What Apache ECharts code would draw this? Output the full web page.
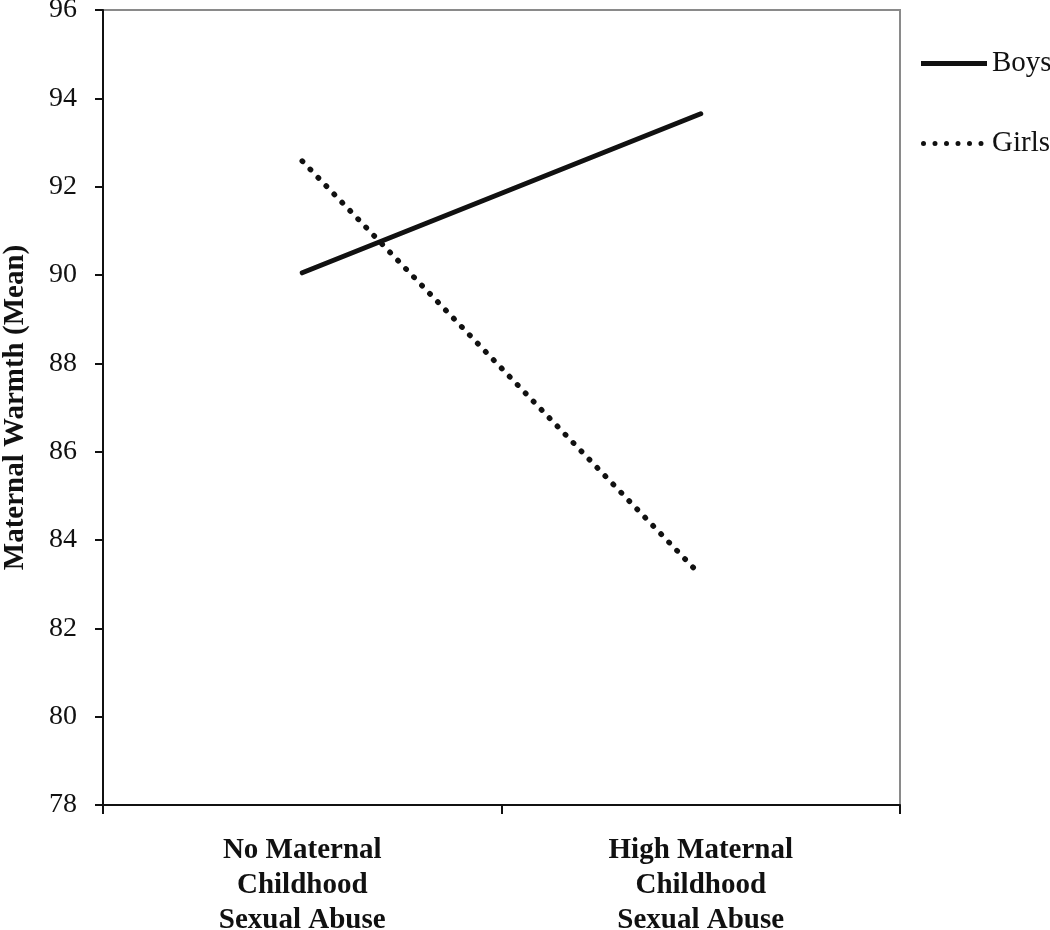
<!DOCTYPE html>
<html>
<head>
<meta charset="utf-8">
<script src="https://cdn.jsdelivr.net/npm/echarts@6/dist/echarts.min.js"></script>
<style>html,body{margin:0;padding:0;background:#fff}#c{width:1050px;height:930px}</style>
</head>
<body>
<div id="c"></div>
<script>
var categories = ['No Maternal\nChildhood\nSexual Abuse', 'High Maternal\nChildhood\nSexual Abuse'];
var boys = [90.05, 93.65];
var girls = [92.58, 83.2];
var yMin = 78, yMax = 96, yStep = 2;

var chart = echarts.init(document.getElementById('c'));
var serif = 'Liberation Serif';
var dotsIcon = 'path://M0,2.5a2.5,2.5 0 1,0 5,0a2.5,2.5 0 1,0 -5,0Z' +
  'M11.5,2.5a2.5,2.5 0 1,0 5,0a2.5,2.5 0 1,0 -5,0Z' +
  'M23,2.5a2.5,2.5 0 1,0 5,0a2.5,2.5 0 1,0 -5,0Z' +
  'M34.5,2.5a2.5,2.5 0 1,0 5,0a2.5,2.5 0 1,0 -5,0Z' +
  'M46,2.5a2.5,2.5 0 1,0 5,0a2.5,2.5 0 1,0 -5,0Z' +
  'M57.5,2.5a2.5,2.5 0 1,0 5,0a2.5,2.5 0 1,0 -5,0Z' +
  'M66,0L66,5Z';
chart.setOption({
  animation: false,
  backgroundColor: '#fff',
  grid: { left: 103, top: 10, right: 150, bottom: 125, outerBoundsMode: 'none', containLabel: false,
    show: true, borderColor: '#8a8a8a', borderWidth: 2, backgroundColor: 'transparent' },
  legend: {
    orient: 'vertical', left: 916, top: 44, itemWidth: 66, itemHeight: 5, itemGap: 51,
    textStyle: { fontFamily: serif, fontSize: 29, color: '#111' },
    data: [
      { name: 'Boys', icon: 'path://M0,0 L66,0 L66,5 L0,5 Z' },
      { name: 'Girls', icon: dotsIcon }
    ]
  },
  xAxis: {
    type: 'category', data: categories, boundaryGap: true,
    axisLine: { lineStyle: { color: '#111', width: 2 } },
    axisTick: { show: true, length: 9, lineStyle: { color: '#111', width: 2 } },
    axisLabel: { fontFamily: serif, fontWeight: 'bold', fontSize: 29, color: '#111', lineHeight: 35, margin: 28 },
    splitLine: { show: false }
  },
  yAxis: {
    type: 'value', min: yMin, max: yMax, interval: yStep,
    name: 'Maternal Warmth (Mean)', nameLocation: 'middle', nameGap: 73, nameRotate: 90,
    nameTextStyle: { fontFamily: serif, fontWeight: 'bold', fontSize: 29, color: '#111' },
    axisLine: { show: true, lineStyle: { color: '#111', width: 2 } },
    axisTick: { show: true, length: 8, inside: false, lineStyle: { color: '#111', width: 2 } },
    axisLabel: { fontFamily: serif, fontSize: 28, color: '#111', margin: 26 },
    splitLine: { show: false }
  },
  series: [
    { name: 'Boys', type: 'line', data: boys, symbol: 'none', color: '#111',
      lineStyle: { color: '#111', width: 5, cap: 'round' } },
    { name: 'Girls', type: 'line', data: girls, symbol: 'none', color: '#111',
      lineStyle: { color: '#111', width: 5.5, type: [0.5, 11], cap: 'round' } }
  ]
});
</script>
</body>
</html>
